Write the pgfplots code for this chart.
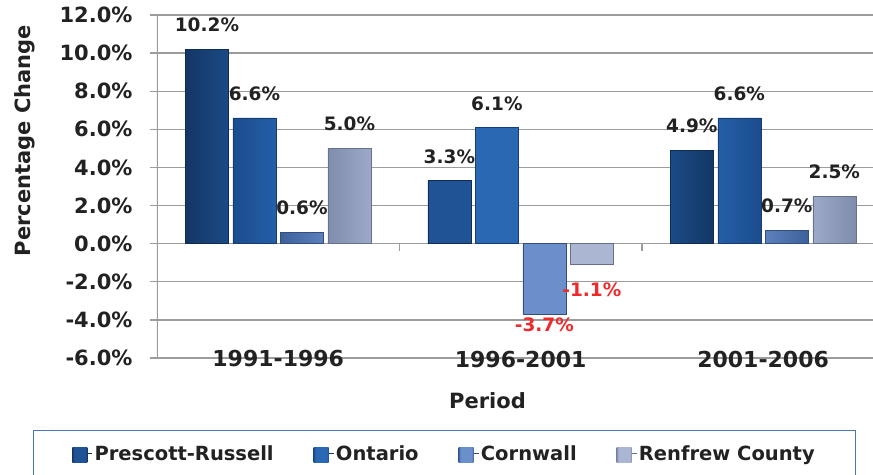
\documentclass[border=0pt]{standalone}
\usepackage{pgfplots}
\pgfplotsset{compat=1.18}
\usepackage{fontspec}
\setmainfont{DejaVu Sans}
\definecolor{gridgray}{HTML}{9C9C9C}
\definecolor{txt}{HTML}{222222}
\definecolor{negred}{HTML}{EE2A2A}
\definecolor{legblue}{HTML}{4A78B0}
\definecolor{aD}{HTML}{133766}\definecolor{aL}{HTML}{1F5396}
\definecolor{bD}{HTML}{1B4C8E}\definecolor{bL}{HTML}{2A68B4}
\definecolor{cD}{HTML}{3D619B}\definecolor{cL}{HTML}{6A8FCB}
\definecolor{dD}{HTML}{7F8DAE}\definecolor{dL}{HTML}{AAB6D2}
\pgfdeclarehorizontalshading{shA}{100bp}{color(0bp)=(aD); color(25bp)=(aD); color(31bp)=(aL); color(69bp)=(aL); color(75bp)=(aD); color(100bp)=(aD)}
\pgfdeclarehorizontalshading{shB}{100bp}{color(0bp)=(bD); color(25bp)=(bD); color(31bp)=(bL); color(69bp)=(bL); color(75bp)=(bD); color(100bp)=(bD)}
\pgfdeclarehorizontalshading{shC}{100bp}{color(0bp)=(cD); color(25bp)=(cD); color(31bp)=(cL); color(69bp)=(cL); color(75bp)=(cD); color(100bp)=(cD)}
\pgfdeclarehorizontalshading{shD}{100bp}{color(0bp)=(dD); color(25bp)=(dD); color(31bp)=(dL); color(69bp)=(dL); color(75bp)=(dD); color(100bp)=(dD)}
% label for a negative value: red, lowered by #2
\newcommand\Nl[2]{\raisebox{#2}[0pt][0pt]{\color{negred}#1\%}}
\newcommand\Pl[1]{#1\%}

\begin{document}
\begin{tikzpicture}
\path[use as bounding box] (0,0) rectangle (873pt,474pt);
\clip (0,0) rectangle (873pt,474pt);
\begin{axis}[
  at={(157pt,116pt)}, anchor=south west, scale only axis,
  width=760pt, height=343pt,
  xmin=-0.5, xmax=2.635, ymin=-6, ymax=12,
  ybar=4.5pt, bar width=43pt,
  axis line style={draw=none},
  ytick pos=left, xtick pos=bottom,
  ymajorgrids, grid style={gridgray, line width=1.3pt},
  ytick={-6,-4,...,12},
  yticklabels={-6.0\%,-4.0\%,-2.0\%,0.0\%,2.0\%,4.0\%,6.0\%,8.0\%,10.0\%,12.0\%},
  xtick={0,1,2}, xticklabels={1991-1996,1996-2001,2001-2006},
  xtick style={draw=none}, ytick style={gridgray, line width=1.3pt},
  tick align=outside, major tick length=7pt,
  yticklabel style={font=\fontsize{21}{25}\selectfont\bfseries, text=txt, xshift=-14pt},
  xticklabel style={font=\fontsize{22}{26}\selectfont\bfseries, text=txt, anchor=center, yshift=6pt},
  xlabel={Period}, ylabel={Percentage Change},
  xlabel style={font=\fontsize{21}{25}\selectfont\bfseries, text=txt, at={(axis description cs:0.4349,0)}, anchor=center, yshift=-43pt},
  ylabel style={font=\fontsize{21}{25}\selectfont\bfseries, text=txt, at={(axis description cs:-0.1737,0.634)}, anchor=center},
  point meta=explicit symbolic,
  nodes near coords,
  every node near coord/.append style={font=\fontsize{18.5}{22}\selectfont\bfseries, text=txt, yshift=13.5pt},
  legend columns=4,
  legend style={at={(axis description cs:0.3783,-0.2099)}, anchor=north, draw=legblue, line width=1.2pt,
    font=\fontsize{19.5}{23}\selectfont\bfseries, text=txt, inner xsep=39pt, inner ysep=13pt,
    /tikz/every even column/.append style={column sep=38pt}},
  legend image code/.code={\path[#1, draw=none] (0pt,-8.5pt) rectangle (15pt,6.5pt); \path (15pt,0) -- (20pt,0);},
]
\addplot[shade, shading=shA, draw=aD!80!black, line width=0.6pt]
  coordinates {(0,10.2) [\Pl{10.2}] (1,3.3) [\Pl{3.3}] (2,4.9) [\Pl{4.9}]};
\addplot[shade, shading=shB, draw=bD!80!black, line width=0.6pt]
  coordinates {(0,6.6) [\Pl{6.6}] (1,6.1) [\Pl{6.1}] (2,6.6) [\Pl{6.6}]};
\addplot[shade, shading=shC, draw=cD!80!black, line width=0.6pt]
  coordinates {(0,0.6) [\Pl{0.6}] (1,-3.7) [\Nl{-3.7}{-34pt}] (2,0.7) [\Pl{0.7}]};
\addplot[shade, shading=shD, draw=dD!80!black, line width=0.6pt]
  coordinates {(0,5.0) [\Pl{5.0}] (1,-1.1) [\Nl{-1.1}{-49pt}] (2,2.5) [\Pl{2.5}]};
\legend{Prescott-Russell,Ontario,Cornwall,Renfrew County}
\draw[gridgray, line width=1.3pt] (rel axis cs:0,0) -- (rel axis cs:0,1);
\draw[gridgray, line width=1.3pt] (axis cs:0.5,0) -- ([yshift=-7pt]axis cs:0.5,0);
\draw[gridgray, line width=1.3pt] (axis cs:1.5,0) -- ([yshift=-7pt]axis cs:1.5,0);
\end{axis}
\end{tikzpicture}
\end{document}
